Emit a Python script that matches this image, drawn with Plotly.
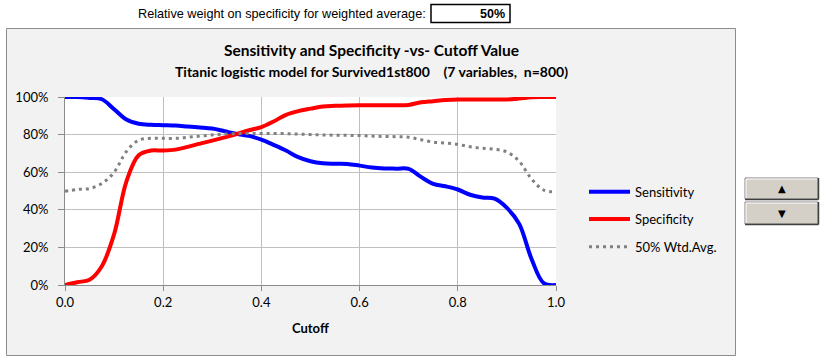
import plotly.graph_objects as go

# ---------------- data ----------------
cutoff = [0.0, 0.025, 0.05, 0.075, 0.1, 0.125, 0.15, 0.175, 0.2, 0.225,
          0.25, 0.275, 0.3, 0.325, 0.35, 0.375, 0.4, 0.425, 0.45, 0.475,
          0.5, 0.525, 0.55, 0.575, 0.6, 0.625, 0.65, 0.675, 0.7, 0.725,
          0.75, 0.775, 0.8, 0.825, 0.85, 0.875, 0.9, 0.925, 0.95, 0.975, 1.0]

sensitivity = [100, 100, 99.5, 98.8, 93.5, 88, 85.8, 85.2, 85, 84.8,
               84.3, 83.8, 83.2, 81.8, 80.4, 79.3, 77.3, 74.5, 71.5, 68,
               65.8, 64.7, 64.5, 64.4, 63.5, 62.5, 62, 61.9, 61.8, 57.5,
               53.8, 52.5, 50.8, 48, 46.5, 45.9, 41, 32.5, 14, 1, 0]

specificity = [0, 1.5, 2.8, 10, 27, 55, 69, 71.5, 71.5, 72,
               73.5, 75.2, 76.8, 78.5, 80.3, 82.3, 84, 87, 90.5, 92.5,
               93.8, 95, 95.3, 95.5, 95.6, 95.6, 95.6, 95.6, 95.8, 97.2,
               97.8, 98.4, 98.7, 98.7, 98.7, 98.7, 98.7, 99.2, 99.9, 100, 100]

wtd_avg = [49.8, 50.8, 51.3, 54, 60, 71, 77, 78, 78, 78,
           78.6, 79.2, 79.8, 80.3, 80.5, 80.6, 80.6, 80.6, 80.5, 80.3,
           80, 79.8, 79.7, 79.6, 79.5, 79.2, 79, 78.9, 78.6, 77.3,
           76, 75.5, 74.8, 73.5, 72.7, 72.2, 70.8, 65.8, 56.5, 50.5, 49.5]

series_names = ["Sensitivity", "Specificity", "50% Wtd.Avg."]
x_ticks = [0.0, 0.2, 0.4, 0.6, 0.8, 1.0]
x_tick_labels = ["0.0", "0.2", "0.4", "0.6", "0.8", "1.0"]
y_ticks = [0, 20, 40, 60, 80, 100]
y_tick_labels = ["0%", "20%", "40%", "60%", "80%", "100%"]

title_text = "Sensitivity and Specificity -vs- Cutoff Value"
subtitle_text = "Titanic logistic model for Survived1st800&nbsp;&nbsp;&nbsp; (7 variables,&nbsp; n=800)"
weight_label = "Relative weight on specificity for weighted average:"
weight_value = "50%"

# ---------------- layout geometry (pixels) ----------------
W, H = 827, 362
L, R, T, B = 65, 556, 97, 285          # plot area edges in px
PW, PH = R - L, B - T


def px(x):
    return (x - L) / PW


def py(y):
    return (B - y) / PH


CAL = "Lato, Carlito, Calibri, sans-serif"
ARIAL = "Liberation Sans, Arial, sans-serif"

fig = go.Figure()
fig.add_trace(go.Scatter(x=cutoff, y=sensitivity, mode="lines", name=series_names[0],
                         line=dict(color="#0000ff", width=4), line_shape="spline"))
fig.add_trace(go.Scatter(x=cutoff, y=specificity, mode="lines", name=series_names[1],
                         line=dict(color="#ff0000", width=4), line_shape="spline"))
fig.add_trace(go.Scatter(x=cutoff, y=wtd_avg, mode="lines", name=series_names[2],
                         line=dict(color="#808080", width=3, dash="3px,4px"), line_shape="spline"))

shapes = [
    # outer chart frame
    dict(type="rect", xref="paper", yref="paper", x0=px(6.5), x1=px(735.5), y0=py(355.5), y1=py(28.5),
         fillcolor="#f2f2f2", line=dict(color="#8c8c8c", width=1), layer="below"),
    # plot area background
    dict(type="rect", xref="paper", yref="paper", x0=0, x1=1, y0=0, y1=1,
         fillcolor="#ffffff", line=dict(width=0), layer="below"),
    # weight input box
    dict(type="rect", xref="paper", yref="paper", x0=px(431), x1=px(510), y0=py(22.5), y1=py(4.5),
         fillcolor="#ffffff", line=dict(color="#000000", width=1.5)),
]

# spin buttons
for (y0, y1) in [(178, 199), (202, 224)]:
    shapes.append(dict(type="rect", xref="paper", yref="paper", x0=px(745), x1=px(818),
                       y0=py(y1), y1=py(y0), fillcolor="#d4d0c8",
                       line=dict(color="#808080", width=1)))
    shapes.append(dict(type="line", xref="paper", yref="paper", x0=px(746), x1=px(817),
                       y0=py(y0 + 1), y1=py(y0 + 1), line=dict(color="#ffffff", width=1)))
    shapes.append(dict(type="line", xref="paper", yref="paper", x0=px(746), x1=px(746),
                       y0=py(y1 - 1), y1=py(y0 + 1), line=dict(color="#ffffff", width=1)))
    shapes.append(dict(type="line", xref="paper", yref="paper", x0=px(745), x1=px(818.5),
                       y0=py(y1 + 0.5), y1=py(y1 + 0.5), line=dict(color="#404040", width=1.5)))
    shapes.append(dict(type="line", xref="paper", yref="paper", x0=px(818.5), x1=px(818.5),
                       y0=py(y1 + 0.5), y1=py(y0), line=dict(color="#404040", width=1.5)))

# manual legend
leg_y = [191.7, 219, 246.7]
leg_styles = [dict(color="#0000ff", width=4), dict(color="#ff0000", width=4),
              dict(color="#808080", width=3, dash="3px,4px")]
for yy, st in zip(leg_y, leg_styles):
    shapes.append(dict(type="line", xref="paper", yref="paper", x0=px(589), x1=px(630),
                       y0=py(yy), y1=py(yy), line=st))

annotations = [
    dict(text="<b>" + title_text + "</b>", x=px(371.5), y=py(50), xref="paper", yref="paper",
         showarrow=False, xanchor="center", yanchor="middle",
         font=dict(family=CAL, size=15.5, color="#000000")),
    dict(text="<b>" + subtitle_text + "</b>", x=px(371), y=py(71), xref="paper", yref="paper",
         showarrow=False, xanchor="center", yanchor="middle",
         font=dict(family=CAL, size=14, color="#000000")),
    dict(text="<b>Cutoff</b>", x=px(310), y=py(328), xref="paper", yref="paper",
         showarrow=False, xanchor="center", yanchor="middle",
         font=dict(family=CAL, size=13, color="#000000")),
    dict(text=weight_label, x=px(428), y=py(14), xref="paper", yref="paper",
         showarrow=False, xanchor="right", yanchor="middle",
         font=dict(family=ARIAL, size=12.7, color="#000000")),
    dict(text="<b>" + weight_value + "</b>", x=px(507), y=py(14), xref="paper", yref="paper",
         showarrow=False, xanchor="right", yanchor="middle",
         font=dict(family=ARIAL, size=12.5, color="#000000")),
    dict(text="▲", x=px(781.5), y=py(188.5), xref="paper", yref="paper",
         showarrow=False, xanchor="center", yanchor="middle",
         font=dict(family="DejaVu Sans", size=10, color="#000000")),
    dict(text="▼", x=px(781.5), y=py(213), xref="paper", yref="paper",
         showarrow=False, xanchor="center", yanchor="middle",
         font=dict(family="DejaVu Sans", size=10, color="#000000")),
]
for yy, nm in zip(leg_y, series_names):
    annotations.append(dict(text=nm, x=px(633), y=py(yy), xref="paper", yref="paper",
                            showarrow=False, xanchor="left", yanchor="middle",
                            font=dict(family=CAL, size=13, color="#000000")))

fig.update_layout(
    width=W, height=H,
    margin=dict(l=L, r=W - R, t=T, b=H - B, pad=0),
    paper_bgcolor="#ffffff",
    plot_bgcolor="rgba(0,0,0,0)",
    showlegend=False,
    shapes=shapes,
    annotations=annotations,
    xaxis=dict(range=[0, 1], tickvals=x_ticks, ticktext=x_tick_labels,
               showgrid=True, gridcolor="#bfbfbf", gridwidth=1, zeroline=False,
               showline=True, linecolor="#8c8c8c", linewidth=1,
               ticks="outside", ticklen=5, tickcolor="#8c8c8c",
               tickfont=dict(family=CAL, size=13, color="#000000")),
    yaxis=dict(range=[0, 100], tickvals=y_ticks, ticktext=y_tick_labels,
               showgrid=True, gridcolor="#bfbfbf", gridwidth=1, zeroline=False,
               showline=True, linecolor="#8c8c8c", linewidth=1,
               ticks="outside", ticklen=6, tickcolor="#8c8c8c", ticklabelstandoff=7,
               tickfont=dict(family=CAL, size=13, color="#000000")),
)

fig.write_html("out.html", config={"displayModeBar": False},
               post_script="document.body.style.margin='0px';")
